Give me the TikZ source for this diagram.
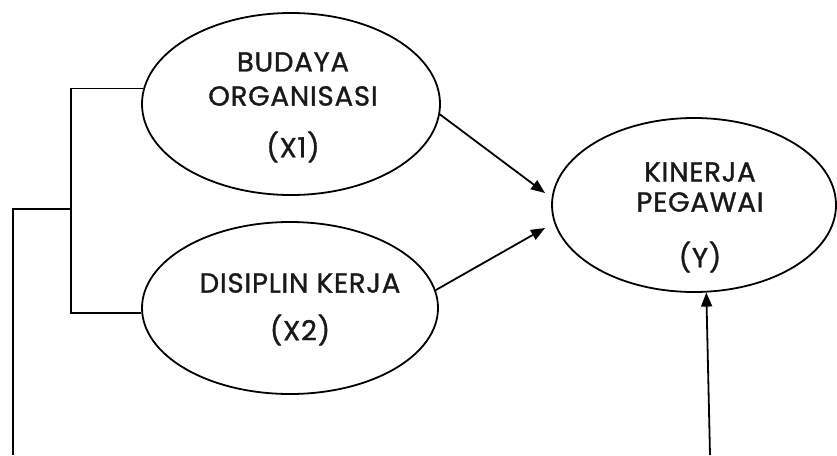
\documentclass[tikz,border=0pt]{standalone}
\usepackage{fontspec}
\setmainfont{Poppins}[FakeBold=1.2,LetterSpace=3]
\usetikzlibrary{shapes.geometric,arrows.meta}

\begin{document}
\begin{tikzpicture}[x=1pt,y=-1pt,
	var/.style={ellipse,draw=black,line width=1.8pt,inner sep=0pt},
	lbl/.style={font=\fontsize{27.5}{30}\selectfont,text=black!90},
	link/.style={black,line width=1.8pt},
	arr/.style={link,-{Triangle[length=14pt,width=11pt]}}]
	\useasboundingbox (0,0) rectangle (837,455);
\node[var,minimum width=298pt,minimum height=182pt] (X1) at (291,104) {};
\node[var,minimum width=296pt,minimum height=172pt] (X2) at (290,308) {};
\node[var,minimum width=284pt,minimum height=174pt] (Y) at (694,205) {};
\node[lbl] (X1a) at (293,62) {BUDAYA};
\node[lbl] (X1b) at (293,96) {ORGANISASI};
\node[lbl] (X1c) at (293,147) {(X1)};
\node[lbl] (X2a) at (300,283) {DISIPLIN KERJA};
\node[lbl] (X2b) at (300,330) {(X2)};
\node[lbl] (Ya) at (700,172) {KINERJA};
\node[lbl] (Yb) at (700,202) {PEGAWAI};
\node[lbl] (Yc) at (700,257) {(Y)};
\coordinate (split) at (71,209);
\coordinate (corner) at (13,209);
\coordinate (low) at (13,455);
\coordinate (start) at (710,455);
\coordinate (tip1) at (545,193);
\coordinate (tip2) at (545,228);
\draw[link] (X1.174) -| (split) |- (X2.182);
\draw[link] (split) -- (corner) -- (low);
\draw[arr] (X1.-4) -- (tip1);
\draw[arr] (X2.7) -- (tip2);
\draw[arr] (start) -- (Y.278);

\end{tikzpicture}
\end{document}
